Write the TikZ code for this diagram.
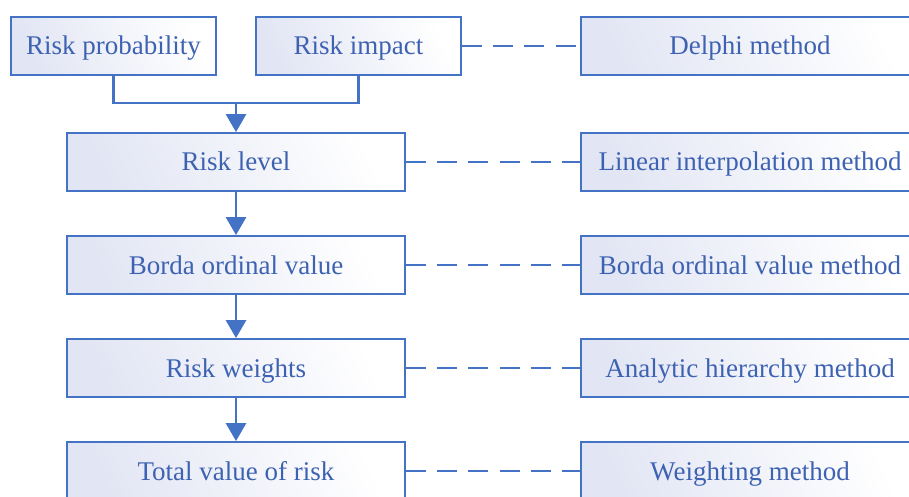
\documentclass[tikz,border=0pt]{standalone}
\usepackage{fontspec}
\setmainfont{Liberation Serif}
\usetikzlibrary{arrows.meta}

\definecolor{riskline}{RGB}{68,114,196}
\definecolor{risktext}{RGB}{62,98,178}
\definecolor{riskfill}{RGB}{226,230,244}

\tikzset{
  riskbox/.style={draw=riskline, line width=1.8pt, left color=riskfill, middle color=white,
    right color=white, shading angle=115, text=risktext, minimum height=58pt,
    minimum width=338pt, inner sep=0pt, text height=18pt, text depth=0pt,
    font=\fontsize{27}{32}\selectfont},
  smallbox/.style={riskbox, minimum width=205pt},
  flow/.style={riskline, line width=2.8pt},
  flowarrow/.style={flow, -{Triangle[width=20pt,length=18pt]}},
  methodlink/.style={riskline, line width=2.8pt, dash pattern=on 20pt off 11.2pt}
}

\begin{document}
\begin{tikzpicture}[x=1pt,y=1pt]
  \clip (0,0) rectangle (909,496);
  \useasboundingbox (0,0) rectangle (909,496);

  % evaluation steps
  \node[smallbox] (prob) at (113.5,450) {Risk probability};
  \node[smallbox] (impact) at (358.5,450) {Risk impact};
  \node[riskbox] (level) at (236,334) {Risk level};
  \node[riskbox] (borda) at (236,231) {Borda ordinal value};
  \node[riskbox] (weights) at (236,128) {Risk weights};
  \node[riskbox] (total) at (236,25) {Total value of risk};

  % methods used
  \node[riskbox] (delphi) at (750,450) {Delphi method};
  \node[riskbox] (interp) at (750,334) {Linear interpolation method};
  \node[riskbox] (bordam) at (750,231) {Borda ordinal value method};
  \node[riskbox] (ahp) at (750,128) {Analytic hierarchy method};
  \node[riskbox] (weighting) at (750,25) {Weighting method};

  \coordinate (join) at (236,393);
  \draw[flow] (prob.south) |- (join) -| (impact.south);
  \draw[flowarrow] (join) -- (level.north);
  \draw[flowarrow] (level) -- (borda);
  \draw[flowarrow] (borda) -- (weights);
  \draw[flowarrow] (weights) -- (total);

  \draw[methodlink] (impact) -- (delphi);
  \draw[methodlink] (level) -- (interp);
  \draw[methodlink] (borda) -- (bordam);
  \draw[methodlink] (weights) -- (ahp);
  \draw[methodlink] (total) -- (weighting);
\end{tikzpicture}
\end{document}
